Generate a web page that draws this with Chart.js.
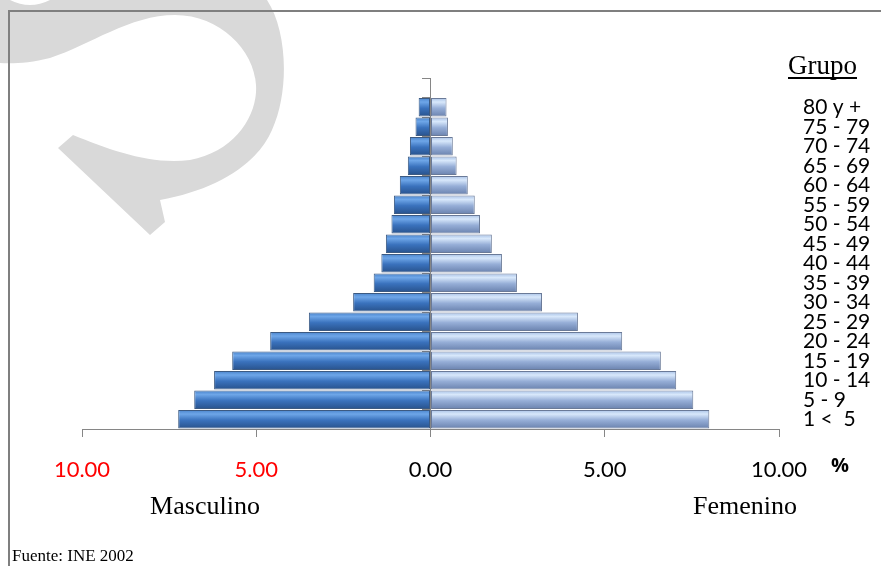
<!DOCTYPE html>
<html>
<head>
<meta charset="utf-8">
<script src="https://cdn.jsdelivr.net/npm/chart.js@4.4.1/dist/chart.umd.min.js"></script>
<style>
  body { margin: 0; background: #fff; }
  #wrap { position: relative; width: 881px; height: 566px; overflow: hidden; }
  #marca { position: absolute; left: 0; top: 0; }
  #marco { position: absolute; left: 8px; top: 10px; width: 900px; height: 600px;
           border-top: 2px solid #7f7f7f; border-left: 2px solid #7f7f7f; }
  #piramide { position: absolute; left: 0; top: 0; }
</style>
</head>
<body>
<div id="wrap">
  <svg id="marca" width="881" height="566">
    <path fill="#d9d9d9" d="M 0 0 L 10 0 Q 30 10 50 0 L 267 0 C 287 30, 290 90, 272 130 C 257 165, 215 190, 160 200 L 165 222 L 150 235 L 58 148 L 73 135 C 110 150, 150 165, 190 160 C 235 152, 258 115, 256 85 C 254 50, 220 15, 175 15 C 130 15, 90 45, 50 58 C 30 63, 12 64, 0 63 Z"/>
  </svg>
  <div id="marco"></div>
  <canvas id="piramide" width="881" height="566"></canvas>
</div>
<script>
// grupos de edad, de arriba hacia abajo
const grupos = ["80 y +", "75 - 79", "70 - 74", "65 - 69", "60 - 64", "55 - 59", "50 - 54",
    "45 - 49", "40 - 44", "35 - 39", "30 - 34", "25 - 29", "20 - 24", "15 - 19",
    "10 - 14", "5 - 9", "1 <  5"];
const masculino = [0.34, 0.43, 0.59, 0.65, 0.88, 1.05, 1.12, 1.28, 1.41, 1.63, 2.22,
    3.49, 4.60, 5.69, 6.21, 6.78, 7.24];
const femenino = [0.46, 0.50, 0.64, 0.75, 1.07, 1.27, 1.42, 1.76, 2.05, 2.48, 3.20,
    4.23, 5.50, 6.61, 7.05, 7.54, 8.00];
const ejeMin = -10;
const ejeMax = 10;
const ejePaso = 5;

// fila vacia arriba para que el eje suba por encima de "80 y +"
const etiquetas = [""].concat(grupos);
const datosM = [null].concat(masculino.map((v) => -v));
const datosF = [null].concat(femenino);

function relleno(stops, fallback) {
    return (c) => {
        const chart = c.chart;
        if (!chart.chartArea) return fallback;
        const ys = chart.scales.y;
        const paso = ys.getPixelForValue(1) - ys.getPixelForValue(0);
        const yc = ys.getPixelForValue(c.dataIndex);
        const h = paso * 0.95;
        const g = chart.ctx.createLinearGradient(0, yc - h / 2, 0, yc + h / 2);
        stops.forEach((s) => g.addColorStop(s[0], s[1]));
        return g;
    };
}

const textos = {
    id: "textos",
    afterDraw(chart) {
        const ctx = chart.ctx;
        ctx.save();
        ctx.fillStyle = "#000";
        ctx.textBaseline = "alphabetic";
        ctx.font = "27px 'Liberation Serif'";
        ctx.textAlign = "left";
        ctx.fillText("Grupo", 788, 74);
        const w = ctx.measureText("Grupo").width;
        ctx.fillRect(788, 77, w, 2);

        ctx.font = "bold 20px 'Open Sans'";
        ctx.fillText("%", 831, 472);

        ctx.font = "26px 'Liberation Serif'";
        ctx.textAlign = "center";
        ctx.fillText("Masculino", 205, 514);
        ctx.fillText("Femenino", 745, 514);

        ctx.font = "17px 'Liberation Serif'";
        ctx.textAlign = "left";
        ctx.fillText("Fuente: INE 2002", 12, 561);
        ctx.restore();
    },
};

new Chart(document.getElementById("piramide"), {
    type: "bar",
    data: {
        labels: etiquetas,
        datasets: [
            {
                label: "Masculino",
                data: datosM,
                backgroundColor: relleno([[0, "#4a84cc"], [0.22, "#6ea6e8"], [0.55, "#3a72bd"], [1, "#28528c"]], "#3d76c0"),
                borderColor: "#3c5a82",
                borderWidth: 1,
                borderSkipped: false,
                barPercentage: 0.95,
                categoryPercentage: 1.0,
            },
            {
                label: "Femenino",
                data: datosF,
                backgroundColor: relleno([[0, "#a8c1e6"], [0.22, "#d8e8fb"], [0.55, "#96aed7"], [1, "#6a82ae"]], "#9ab2da"),
                borderColor: "#6a7a98",
                borderWidth: 1,
                borderSkipped: false,
                barPercentage: 0.95,
                categoryPercentage: 1.0,
            },
        ],
    },
    options: {
        indexAxis: "y",
        responsive: false,
        animation: false,
        layout: {padding: {top: 78, left: 82, right: 0, bottom: 77}},
        plugins: {
            legend: {display: false},
            tooltip: {enabled: false},
        },
        scales: {
            x: {
                stacked: true,
                min: ejeMin,
                max: ejeMax,
                afterFit: (s) => { s.height = 60; },
                ticks: {
                    stepSize: ejePaso,
                    padding: 20,
                    font: {family: "Lato", size: 22},
                    color: (c) => (c.tick.value < 0 ? "#ff0000" : "#000000"),
                    callback: (v) => Math.abs(v).toFixed(2),
                },
                grid: {drawOnChartArea: false, tickLength: 8, color: "#868686"},
                border: {color: "#868686"},
            },
            y: {
                stacked: true,
                position: "center",
                ticks: {display: false},
                grid: {drawOnChartArea: false, tickLength: 8, color: "#868686", offset: true},
                border: {color: "#868686"},
            },
            y2: {
                type: "category",
                position: "right",
                offset: true,
                afterFit: (s) => { s.width = 102; },
                ticks: {
                    autoSkip: false,
                    padding: 24,
                    color: "#000",
                    font: {family: "Lato", size: 21},
                },
                grid: {display: false, drawTicks: false},
                border: {display: false},
            },
        },
    },
    plugins: [textos],
});
</script>
</body>
</html>
